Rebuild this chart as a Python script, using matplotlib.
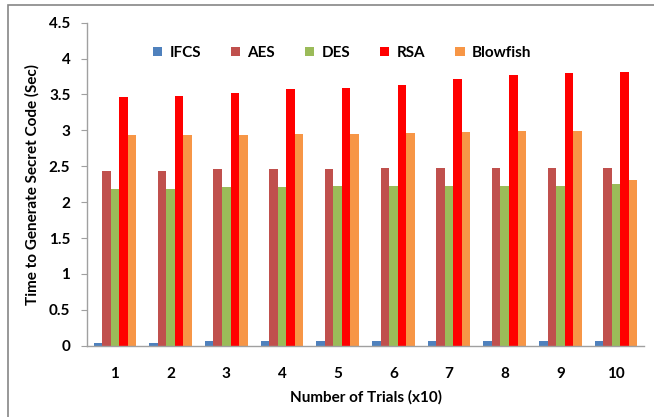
import numpy as np
import matplotlib.pyplot as plt
from matplotlib.patches import Rectangle

# trial groups (x10)
trials = ['1', '2', '3', '4', '5', '6', '7', '8', '9', '10']

# time to generate secret code (sec)
ifcs = [0.04, 0.04, 0.06, 0.06, 0.06, 0.06, 0.07, 0.07, 0.07, 0.07]
aes = [2.44, 2.44, 2.46, 2.46, 2.46, 2.47, 2.47, 2.47, 2.47, 2.48]
des = [2.19, 2.19, 2.21, 2.21, 2.22, 2.22, 2.22, 2.23, 2.23, 2.25]
rsa = [3.46, 3.48, 3.52, 3.57, 3.59, 3.63, 3.72, 3.77, 3.80, 3.81]
blowfish = [2.93, 2.93, 2.93, 2.95, 2.95, 2.96, 2.98, 2.99, 2.99, 2.31]

series_names = ['IFCS', 'AES', 'DES', 'RSA', 'Blowfish']
colors = ['#4F81BD', '#C0504D', '#9BBB59', '#FF0000', '#F79646']

y_ticks = [0, 0.5, 1, 1.5, 2, 2.5, 3, 3.5, 4, 4.5]
y_tick_labels = ['0', '0.5', '1', '1.5', '2', '2.5', '3', '3.5', '4', '4.5']

plt.rcParams['font.family'] = ['Lato', 'DejaVu Sans']
plt.rcParams['font.weight'] = 'bold'

fig = plt.figure(figsize=(6.54, 4.17), dpi=100)
# outer chart border (only top and left are visible in the reference)
fig.patches.append(Rectangle((8 / 654, -0.1), 1.2, 1.1 - 5 / 417,
                             transform=fig.transFigure, fill=False,
                             edgecolor='#868686', linewidth=1.2))

ax = fig.add_axes([87 / 654, 1 - 345.7 / 417, (644 - 87) / 654, (345.7 - 22.7) / 417])

x = np.arange(len(trials))
width = 0.153
data = [ifcs, aes, des, rsa, blowfish]
for i, (vals, name, c) in enumerate(zip(data, series_names, colors)):
    ax.bar(x + (i - 2) * width, vals, width, color=c, label=name)

ax.set_xlim(-0.5, len(trials) - 0.5)
ax.set_ylim(0, 4.5)
ax.set_yticks(y_ticks)
ax.set_yticklabels(y_tick_labels)
ax.set_xticks(x)
ax.set_xticklabels(trials)

ax.tick_params(axis='x', length=0, pad=15, labelsize=11)
ax.tick_params(axis='y', length=4, width=0.8, color='#A0A0A0', pad=8, labelsize=11)

for s in ['top', 'right']:
    ax.spines[s].set_visible(False)
for s in ['left', 'bottom']:
    ax.spines[s].set_color('#A0A0A0')
    ax.spines[s].set_linewidth(1.0)

ax.set_xlabel('Number of Trials (x10)', fontsize=11, fontweight='bold', labelpad=7)
ax.set_ylabel('Time to Generate Secret Code (Sec)', fontsize=11, fontweight='bold', labelpad=7)

ax.legend(ncol=5, frameon=False, loc='center', bbox_to_anchor=(0.458, 0.907),
          fontsize=11, handlelength=0.6, handleheight=0.6, columnspacing=1.95,
          handletextpad=0.5)

plt.savefig('out.png', dpi=100)
